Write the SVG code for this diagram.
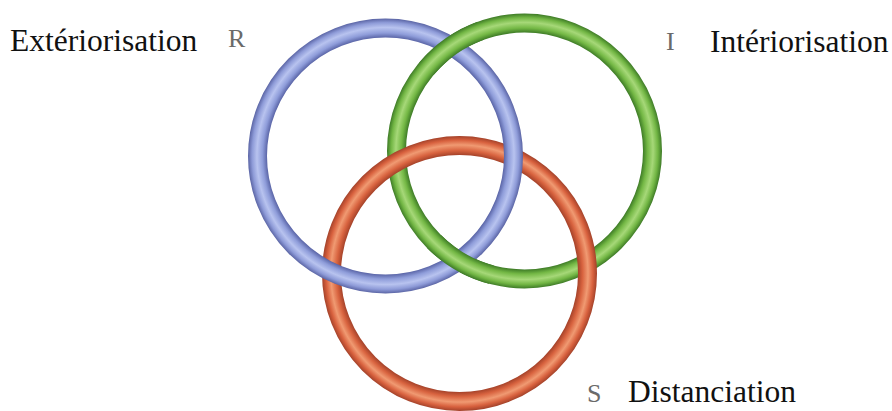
<svg xmlns="http://www.w3.org/2000/svg" width="892" height="411" viewBox="0 0 892 411">
  <defs>
    <radialGradient id="gBlue" gradientUnits="userSpaceOnUse" cx="385.5" cy="156" r="137.5">
      <stop offset="0" stop-color="#5b66a8"/>
      <stop offset="0.862" stop-color="#5b66a8"/>
      <stop offset="0.895" stop-color="#8f9dda"/>
      <stop offset="0.935" stop-color="#b8c3ef"/>
      <stop offset="0.97" stop-color="#8e9bd8"/>
      <stop offset="1" stop-color="#5a64a4"/>
    </radialGradient>
    <radialGradient id="gGreen" gradientUnits="userSpaceOnUse" cx="524.5" cy="151" r="137.5">
      <stop offset="0" stop-color="#3f7d27"/>
      <stop offset="0.862" stop-color="#3f7d27"/>
      <stop offset="0.895" stop-color="#74b845"/>
      <stop offset="0.935" stop-color="#a6d878"/>
      <stop offset="0.97" stop-color="#72b644"/>
      <stop offset="1" stop-color="#3d7a26"/>
    </radialGradient>
    <radialGradient id="gRed" gradientUnits="userSpaceOnUse" cx="459.5" cy="273.5" r="137.5">
      <stop offset="0" stop-color="#a6432a"/>
      <stop offset="0.862" stop-color="#a6432a"/>
      <stop offset="0.895" stop-color="#d8633f"/>
      <stop offset="0.935" stop-color="#f09a72"/>
      <stop offset="0.97" stop-color="#d8613e"/>
      <stop offset="1" stop-color="#a3422a"/>
    </radialGradient>
  </defs>
  <style>
    .ring { fill: none; stroke-width: 19; }
    .label { font-family: "Liberation Serif", "Times New Roman", serif; font-size: 31.5px; fill: #111; }
    .letter { font-family: "Liberation Serif", "Times New Roman", serif; font-size: 26px; fill: #6a6a6a; }
  </style>
  <rect width="892" height="411" fill="#ffffff"/>

  <g id="ring-green">
    <circle class="ring" cx="524.5" cy="151" r="128" stroke="url(#gGreen)"/>
  </g>
  <g id="ring-red">
    <circle class="ring" cx="459.5" cy="273.5" r="128" stroke="url(#gRed)"/>
  </g>
  <g id="ring-blue">
    <circle class="ring" cx="385.5" cy="156" r="128" stroke="url(#gBlue)"/>
  </g>
  <g id="ring-green-over">
    <path class="ring" d="M 426.45 68.72 A 128 128 0 0 1 480.72 30.72" stroke="url(#gGreen)"/>
    <path class="ring" d="M 491.37 274.64 A 128 128 0 0 1 433.99 241.51" stroke="url(#gGreen)"/>
  </g>

  <g id="label-R">
    <text class="label" x="10" y="51">Extériorisation</text>
    <text class="letter" x="228" y="47">R</text>
  </g>
  <g id="label-I">
    <text class="letter" x="666" y="50">I</text>
    <text class="label" x="710" y="52">Intériorisation</text>
  </g>
  <g id="label-S">
    <text class="letter" x="587" y="402">S</text>
    <text class="label" x="628" y="402">Distanciation</text>
  </g>
</svg>
